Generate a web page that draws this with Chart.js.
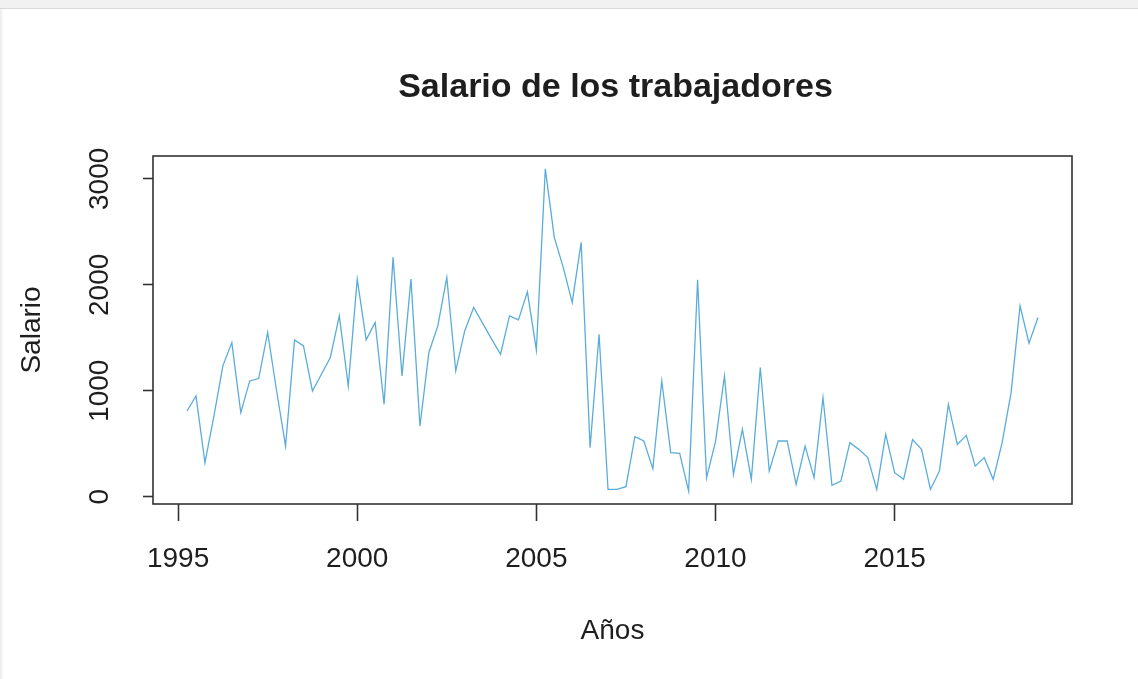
<!doctype html>
<html lang="es">
<head>
    <meta charset="UTF-8">
    <title>Salario de los trabajadores</title>
    <style>
        html, body {
            margin: 0;
            padding: 0;
            background-color: #ffffff;
            overflow: hidden;
        }
        #marco-top {
            position: absolute;
            left: 0; top: 0;
            width: 1138px; height: 8px;
            background-color: #f1f1f1;
            border-bottom: 1px solid #d9d9d9;
        }
        #marco-left {
            position: absolute;
            left: 0; top: 9px;
            width: 3px; height: 670px;
            background: linear-gradient(to right, #ececec, #fafafa);
        }
        #chart-box {
            position: absolute;
            left: 0; top: 0;
            width: 1138px; height: 679px;
        }
    </style>
    <script src="https://cdn.jsdelivr.net/npm/chart.js"></script>
</head>
<body>
<div id="marco-top"></div>
<div id="marco-left"></div>
<div id="chart-box">
    <canvas id="myChart" width="1138" height="679"></canvas>
</div>

<script>
    // serie trimestral, empieza en 1995 T2
    const inicio = 1995.25;
    const frecuencia = 4;

    const salario = [
        809, 951, 321, 760, 1235, 1455, 794, 1093, 1115, 1550,
        1000, 478, 1480, 1424, 998, 1156, 1314, 1707, 1045, 2054,
        1480, 1645, 872, 2259, 1140, 2054, 667, 1361, 1612, 2070,
        1187, 1565, 1786, 1638, 1487, 1345, 1707, 1669, 1934, 1385,
        3094, 2448, 2164, 1834, 2401, 463, 1534, 69, 69, 95,
        567, 526, 265, 1093, 416, 410, 53, 2047, 180, 520,
        1140, 211, 636, 164, 1219, 242, 526, 526, 116, 478,
        180, 936, 107, 147, 510, 447, 369, 69, 589, 227,
        164, 540, 447, 69, 242, 872, 494, 579, 289, 369,
        164, 510, 983, 1801, 1449, 1692
    ];

    const ticksAnios = [1995, 2000, 2005, 2010, 2015];
    const ticksSalario = [0, 1000, 2000, 3000];

    const titulo = 'Salario de los trabajadores';
    const etiquetaX = 'Años';
    const etiquetaY = 'Salario';

    const fuente = '"Liberation Sans", Arial, sans-serif';
    const colorTexto = '#1e1e1e';
    const colorEjes = '#333333';

    const puntos = salario.map((v, i) => ({ x: inicio + i / frecuencia, y: v }));

    // rango como en R: 4% extra a cada lado
    function rangoR(vals) {
        const lo = Math.min(...vals), hi = Math.max(...vals);
        const d = (hi - lo) * 0.04;
        return [lo - d, hi + d];
    }
    const [xMin, xMax] = rangoR(puntos.map(p => p.x));
    const [yMin, yMax] = rangoR(salario);

    // caja del grafico, titulo y etiquetas giradas del eje y
    const cajaPlugin = {
        id: 'caja',
        afterDraw(chart) {
            const { ctx, chartArea } = chart;
            ctx.save();
            ctx.strokeStyle = colorEjes;
            ctx.lineWidth = 1.6;
            ctx.strokeRect(chartArea.left, chartArea.top,
                chartArea.right - chartArea.left, chartArea.bottom - chartArea.top);

            ctx.fillStyle = colorTexto;
            ctx.textAlign = 'center';
            ctx.font = 'bold 34px ' + fuente;
            ctx.textBaseline = 'alphabetic';
            ctx.fillText(titulo, (chartArea.left + chartArea.right) / 2 + 3, chartArea.top - 59);

            const y = chart.scales.y;
            ctx.font = '28px ' + fuente;
            ctx.textBaseline = 'middle';
            y.ticks.forEach(t => {
                const py = y.getPixelForValue(t.value);
                ctx.save();
                ctx.translate(100, py);
                ctx.rotate(-Math.PI / 2);
                ctx.fillText(String(t.value), 0, 0);
                ctx.restore();
            });
            ctx.restore();
        }
    };

    const ctx = document.getElementById('myChart').getContext('2d');
    const chartInstance = new Chart(ctx, {
        type: 'line',
        data: {
            datasets: [{
                label: etiquetaY,
                data: puntos,
                borderColor: '#5aacdc',
                borderWidth: 1.3,
                pointRadius: 0,
                tension: 0,
                fill: false
            }]
        },
        options: {
            responsive: false,
            animation: false,
            events: [],
            layout: {
                padding: { left: 0, right: 66, top: 156, bottom: 0 }
            },
            plugins: {
                legend: { display: false },
                tooltip: { enabled: false },
                title: { display: false }
            },
            scales: {
                x: {
                    type: 'linear',
                    min: xMin,
                    max: xMax,
                    afterBuildTicks: (axis) => {
                        axis.ticks = ticksAnios.map(v => ({ value: v }));
                    },
                    afterFit: (axis) => { axis.height = 175; },
                    grid: {
                        display: true,
                        drawOnChartArea: false,
                        drawTicks: true,
                        tickLength: 17,
                        tickColor: colorEjes,
                        tickWidth: 1.6
                    },
                    border: { display: false },
                    ticks: {
                        color: colorTexto,
                        font: { family: fuente, size: 28 },
                        padding: 21,
                        maxRotation: 0,
                        autoSkip: false,
                        callback: (v) => String(v)
                    },
                    title: {
                        display: true,
                        text: etiquetaX,
                        color: colorTexto,
                        font: { family: fuente, size: 28 },
                        padding: { top: 0, bottom: 31 }
                    }
                },
                y: {
                    type: 'linear',
                    min: yMin,
                    max: yMax,
                    afterBuildTicks: (axis) => {
                        axis.ticks = ticksSalario.map(v => ({ value: v }));
                    },
                    afterFit: (axis) => { axis.width = 153; },
                    grid: {
                        display: true,
                        drawOnChartArea: false,
                        drawTicks: true,
                        tickLength: 10,
                        tickColor: colorEjes,
                        tickWidth: 1.6
                    },
                    border: { display: false },
                    ticks: { display: false },
                    title: {
                        display: true,
                        text: etiquetaY,
                        color: colorTexto,
                        font: { family: fuente, size: 28 },
                        padding: { top: 15, bottom: 0 }
                    }
                }
            }
        },
        plugins: [cajaPlugin]
    });
</script>
</body>
</html>
